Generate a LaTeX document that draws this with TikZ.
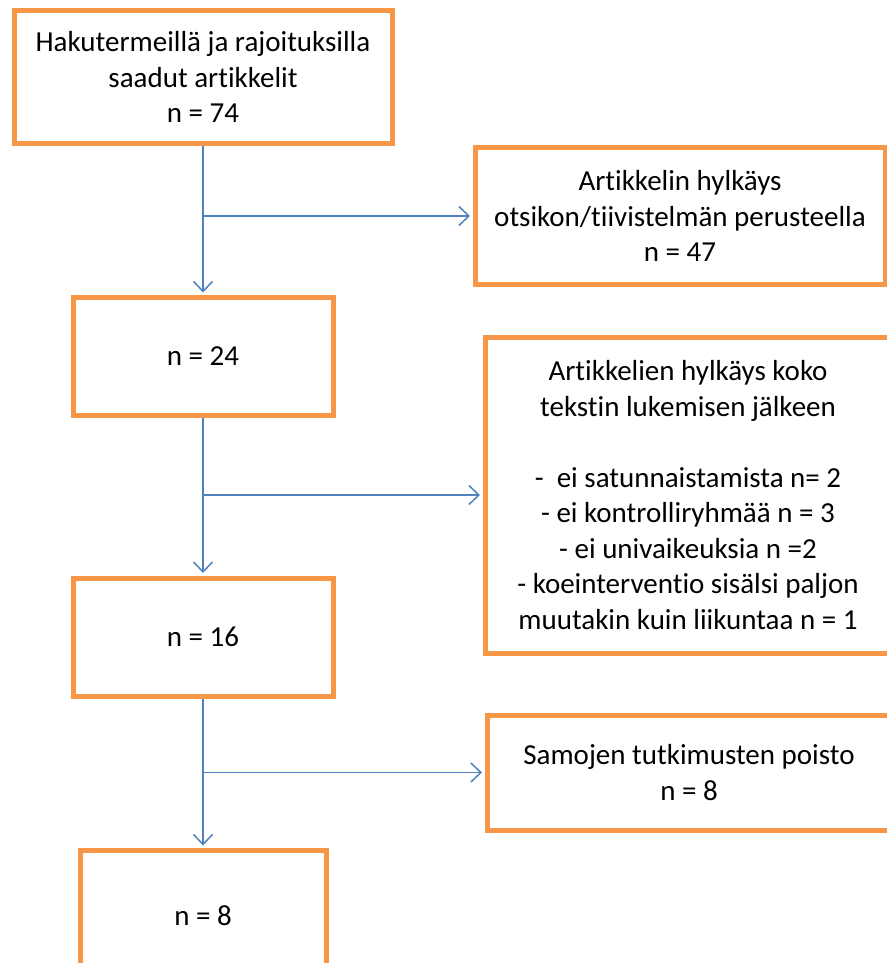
\documentclass[tikz,border=0pt]{standalone}
\usepackage{fontspec}
\setmainfont{Carlito}[Ligatures={NoCommon}]
\usetikzlibrary{arrows.meta}
\definecolor{boxorange}{RGB}{247,150,70}
\definecolor{flowblue}{RGB}{79,129,189}

\begin{document}
\begin{tikzpicture}[x=1pt,y=-1pt,
  box/.style={draw=boxorange, line width=5pt, align=center, inner sep=0pt, font=\fontsize{29}{35.5}\selectfont},
  flow/.style={draw=flowblue, line width=1.5pt, shorten >=2.5pt, -{Straight Barb[length=10pt,width=19pt,line width=1.5pt]}}]
\useasboundingbox (0,0) rectangle (886,963);
% main column
\node[box, minimum width=378pt, minimum height=133pt] (hits) at (203,77) {Hakutermeillä ja rajoituksilla\\saadut artikkelit\\n = 74};
\node[box, minimum width=260pt, minimum height=118pt] (n24) at (203,356.5) {n = 24};
\node[box, minimum width=260pt, minimum height=118pt] (n16) at (203,637) {n = 16};
\node[box, minimum width=246pt, minimum height=130pt] (n8) at (203,915.5) {n = 8};
% excluded
\node[box, minimum width=410pt, minimum height=137pt] (hylk1) at (680,216) {Artikkelin hylkäys\\otsikon/tiivistelmän perusteella\\n = 47};
\node[box, minimum width=406pt, minimum height=316pt] (hylk2) at (688,495) {Artikkelien hylkäys koko\\tekstin lukemisen jälkeen\\[35.5pt]-\ \ ei satunnaistamista n= 2\\- ei kontrolliryhmää n = 3\\- ei univaikeuksia n =2\\- koeinterventio sisälsi paljon\\muutakin kuin liikuntaa n = 1};
\node[box, minimum width=404pt, minimum height=115pt] (hylk3) at (689,772.5) {Samojen tutkimusten poisto\\n = 8};
% arrows
\foreach \a/\b in {hits/n24,n24/n16,n16/n8}{\draw[flow] (\a) -- (\b);}
\foreach \a/\b in {hits/hylk1,n24/hylk2,n16/hylk3}{
  \coordinate (br-\b) at (\a.south |- \b.west);
  \draw[flow] (br-\b) -- (\b.west);}
\end{tikzpicture}
\end{document}
